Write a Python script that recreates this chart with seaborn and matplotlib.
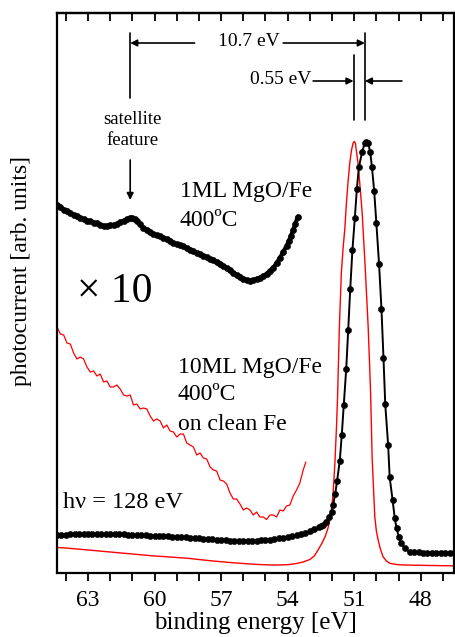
import numpy as np
import pandas as pd
import matplotlib
matplotlib.use("Agg")
import matplotlib.pyplot as plt
import seaborn as sns

# ---------------- data (binding energy [eV], photocurrent [arb. units]) ----------------
# 1ML MgO/Fe, main spectrum (black, dots)
black_E = [64.4, 64.2, 64.0, 63.8, 63.6, 63.4, 63.2, 63.0, 62.8, 62.6, 62.4, 62.2, 62.0,
           61.8, 61.6, 61.4, 61.2, 61.0, 60.8, 60.6, 60.4, 60.2, 60.0, 59.8, 59.6, 59.4,
           59.2, 59.0, 58.8, 58.6, 58.4, 58.2, 58.0, 57.8, 57.6, 57.4, 57.2, 57.0, 56.8,
           56.6, 56.4, 56.2, 56.0, 55.8, 55.6, 55.4, 55.2, 55.0, 54.8, 54.6, 54.4, 54.2,
           54.0, 53.8, 53.6, 53.4, 53.2, 53.0, 52.8, 52.6, 52.5,
           52.40, 52.25, 52.13, 52.02, 51.95, 51.86, 51.77, 51.65, 51.56, 51.47, 51.36,
           51.27, 51.18, 51.08, 50.97, 50.88, 50.79, 50.64, 50.52, 50.45, 50.37, 50.28,
           50.20, 50.10, 50.00, 49.88, 49.77, 49.68, 49.60, 49.47, 49.40, 49.27, 49.17,
           49.09, 48.99, 48.87, 48.72, 48.50, 48.3, 48.1, 47.9, 47.7, 47.5, 47.3, 47.1,
           46.9, 46.7, 46.5]
black_I = [38.0, 38.3, 38.5, 38.6, 38.6, 38.7, 38.7, 38.7, 38.8, 38.9, 39.0, 39.0, 39.0,
           38.9, 38.8, 38.6, 38.4, 38.2, 38.0, 37.8, 37.6, 37.4, 37.2, 37.0, 36.8, 36.6,
           36.4, 36.2, 36.0, 35.7, 35.4, 35.1, 34.8, 34.4, 34.0, 33.7, 33.4, 33.1, 32.8,
           32.5, 32.3, 32.2, 32.1, 32.1, 32.2, 32.4, 32.7, 33.0, 33.5, 34.0, 34.7, 35.4,
           36.2, 37.1, 38.1, 39.2, 40.4, 41.8, 43.6, 46.0, 47.0,
           48.0, 51.3, 56.3, 61.3, 68.0, 78.7, 92.3, 112.3, 138.0, 168.0, 204.0,
           243.0, 283.7, 323.0, 355.3, 384.0, 405.7, 421.3, 430.3, 431.3, 429.7, 421.3,
           406.0, 382.3, 349.7, 309.3, 263.7, 215.3, 168.7, 128.0, 95.7, 73.0, 54.7,
           44.7, 36.3, 29.7, 24.7, 21.3, 20.8, 20.6, 20.5, 20.5, 20.4, 20.4, 20.4,
           20.4, 20.4, 20.4]

# 1ML MgO/Fe, x10 magnified (black)
black10_E = [64.41, 64.25, 64.10, 63.95, 63.80, 63.65, 63.50, 63.35, 63.20, 63.05, 62.90,
             62.75, 62.60, 62.45, 62.30, 62.15, 62.00, 61.85, 61.70, 61.55, 61.40, 61.25,
             61.10, 61.00, 60.90, 60.80, 60.65, 60.50, 60.35, 60.20, 60.05, 59.90, 59.75,
             59.60, 59.45, 59.30, 59.15, 59.00, 58.85, 58.70, 58.55, 58.40, 58.25, 58.10,
             57.95, 57.80, 57.65, 57.50, 57.35, 57.20, 57.05, 56.90, 56.75, 56.60, 56.45,
             56.30, 56.15, 56.00, 55.85, 55.70, 55.55, 55.40, 55.25, 55.10, 54.95, 54.80,
             54.65, 54.50, 54.35, 54.20, 54.05, 53.95, 53.85, 53.75, 53.65, 53.55]
black10_I = [368, 366, 363, 362, 360, 358, 357, 355, 354, 352, 352,
             350, 350, 348, 347, 347, 348, 348, 349, 351, 352, 354,
             355, 355, 354, 352, 349, 345, 343, 341, 339, 338, 337,
             335, 334, 332, 330, 329, 328, 327, 325, 323, 322, 320,
             319, 317, 316, 314, 313, 311, 309, 307, 305, 303, 300,
             298, 296, 294, 293, 292, 293, 294, 295, 297, 299, 302,
             305, 310, 315, 321, 327, 332, 337, 343, 349, 356]

# 10ML MgO/Fe on clean Fe, main spectrum (red)
red_E = [64.4, 64.0, 63.5, 63.0, 62.5, 62.0, 61.5, 61.0, 60.5, 60.0, 59.5, 59.0, 58.5,
         58.0, 57.5, 57.0, 56.5, 56.0, 55.5, 55.0, 54.5, 54.0, 53.6, 53.3, 53.0, 52.8,
         52.63, 52.45, 52.3, 52.18, 52.05, 51.95, 51.87, 51.80, 51.75, 51.67, 51.58,
         51.50, 51.42, 51.35, 51.27, 51.20, 51.12, 51.05, 51.00, 50.95, 50.90, 50.83,
         50.75, 50.64, 50.52, 50.45, 50.37, 50.30, 50.26, 50.19, 50.12, 50.07, 50.00,
         49.92, 49.82, 49.70, 49.55, 49.40, 49.10, 48.72, 48.0, 47.5, 47.0, 46.5]
red_I = [25.5, 25.0, 24.0, 23.0, 22.0, 21.0, 20.0, 19.0, 18.0, 17.0, 16.3, 15.5, 14.7,
         13.5, 12.3, 11.3, 10.3, 9.5, 8.7, 8.2, 8.0, 8.3, 9.5, 11.0, 13.5, 17.0,
         23.0, 30.0, 37.0, 45.0, 58.0, 80.0, 110.0, 145.0, 176.0, 245.0, 300.0,
         325.0, 345.0, 370.0, 393.0, 410.0, 423.0, 430.0, 431.5, 430.0, 422.0, 410.0,
         390.0, 360.0, 312.0, 282.0, 246.0, 205.0, 180.0, 115.0, 80.0, 56.0, 42.0,
         33.0, 24.0, 16.3, 12.0, 9.7, 8.5, 8.0, 7.7, 7.5, 7.3, 7.2]

# 10ML MgO/Fe on clean Fe, x10 magnified (red, noisy)
red10_E = [64.40, 64.25, 64.10, 63.95, 63.80, 63.65, 63.50, 63.35, 63.20, 63.05, 62.90,
           62.75, 62.60, 62.45, 62.30, 62.15, 62.00, 61.85, 61.70, 61.55, 61.40, 61.25,
           61.10, 60.95, 60.80, 60.65, 60.50, 60.35, 60.20, 60.05, 59.90, 59.75, 59.60,
           59.45, 59.30, 59.15, 59.00, 58.85, 58.70, 58.55, 58.40, 58.25, 58.10, 57.95,
           57.80, 57.65, 57.50, 57.35, 57.20, 57.05, 56.90, 56.75, 56.60, 56.45, 56.30,
           56.15, 56.00, 55.85, 55.70, 55.55, 55.40, 55.25, 55.10, 54.95, 54.80, 54.65,
           54.50, 54.35, 54.20, 54.05, 53.90, 53.75, 53.60, 53.45, 53.30, 53.18]
red10_I = [246, 239, 238, 230, 229, 220, 214, 216, 214, 206, 201,
           202, 197, 199, 191, 192, 186, 186, 188, 184, 178, 177,
           178, 168, 169, 164, 165, 164, 157, 152, 154, 152, 145,
           148, 142, 141, 136, 139, 139, 130, 128, 126, 118, 120,
           115, 114, 106, 103, 102, 93, 92, 89, 80, 74, 74,
           69, 63, 65, 63, 58, 61, 56, 56, 53.5, 58, 58,
           56, 63, 62, 67, 68, 77, 83, 90, 103, 111]

x_ticks = [63, 60, 57, 54, 51, 48]
x_tick_labels = ["63", "60", "57", "54", "51", "48"]
x_minor = [47, 49, 50, 52, 53, 55, 56, 58, 59, 61, 62, 64]

# ---------------- figure ----------------
sns.set_style("ticks")
plt.rcParams["font.family"] = ["Liberation Serif", "DejaVu Serif"]
plt.rcParams.update({"text.color": "black", "axes.labelcolor": "black",
                     "axes.edgecolor": "black", "xtick.color": "black",
                     "ytick.color": "black"})

fig = plt.figure(figsize=(4.55, 6.37), dpi=100)
ax = fig.add_axes([57 / 455, 1 - 573 / 637, 397 / 455, 560 / 637])

sns.lineplot(x=red_E, y=red_I, ax=ax, color="#ff0000", lw=1.0, sort=False, estimator=None)
sns.lineplot(x=red10_E, y=red10_I, ax=ax, color="#ff0000", lw=0.9, sort=False, estimator=None)
sns.lineplot(x=black_E, y=black_I, ax=ax, color="black", lw=1.4, marker="o", ms=4.4,
             mec="black", mew=0.4, sort=False, estimator=None)
sns.lineplot(x=black10_E, y=black10_I, ax=ax, color="black", lw=3.0, marker="o", ms=4.4,
             mec="black", mew=0.4, sort=False, estimator=None)

ax.set_xlim(64.4, 46.5)
ax.set_ylim(0, 560)
ax.set_xticks(x_ticks)
ax.set_xticklabels(x_tick_labels)
ax.set_xticks(x_minor, minor=True)
ax.set_yticks([])
ax.tick_params(axis="x", which="major", direction="out", length=6, width=1.3,
               labelsize=17, pad=6, top=False, colors="black")
ax.tick_params(axis="x", which="minor", direction="out", length=6, width=1.3, top=False,
               colors="black")
for s in ax.spines.values():
    s.set_linewidth(1.6)
    s.set_color("black")
    s.set_visible(True)

top = ax.secondary_xaxis("top")
top.set_xticks(x_ticks)
top.set_xticks(x_minor, minor=True)
top.tick_params(axis="x", which="both", direction="in", length=6, width=1.3,
                labeltop=False, colors="black")
top.spines["top"].set_linewidth(1.6)
top.spines["top"].set_color("black")

ax.set_xlabel("binding energy [eV]", fontsize=18, labelpad=1, color="black")
ax.set_ylabel("photocurrent [arb. units]", fontsize=17, color="black")
ax.yaxis.set_label_coords(-0.063, 0.54)

# ---------------- annotations ----------------
lc = dict(color="black", lw=1.2)
ax.plot([61.1, 61.1], [540, 475], **lc)
ax.plot([50.52, 50.52], [540, 453], **lc)
ax.plot([51.03, 51.03], [518, 453], **lc)
arr = dict(arrowstyle="-|>", color="black", lw=1.2, mutation_scale=10, shrinkA=0, shrinkB=0)
ax.annotate("", xy=(61.1, 530), xytext=(58.2, 530), arrowprops=arr)
ax.annotate("", xy=(50.52, 530), xytext=(54.2, 530), arrowprops=arr)
ax.text(55.75, 531, "10.7 eV", ha="center", va="center", fontsize=14)
ax.annotate("", xy=(51.03, 492), xytext=(52.85, 492), arrowprops=arr)
ax.annotate("", xy=(50.52, 492), xytext=(48.85, 492), arrowprops=arr)
ax.text(54.3, 494, "0.55 eV", ha="center", va="center", fontsize=14)
ax.text(61.0, 443, "satellite\nfeature", ha="center", va="center", fontsize=13.5,
        linespacing=1.25)
ax.annotate("", xy=(61.1, 373), xytext=(61.1, 413), arrowprops=arr)

ax.text(58.86, 381, "1ML MgO/Fe", ha="left", va="center", fontsize=17)
ax.text(58.86, 353, "400ºC", ha="left", va="center", fontsize=17)
ax.text(63.5, 281, "× 10", ha="left", va="center", fontsize=30)
ax.text(58.95, 206, "10ML MgO/Fe", ha="left", va="center", fontsize=17)
ax.text(58.95, 178, "400ºC", ha="left", va="center", fontsize=17)
ax.text(58.95, 149, "on clean Fe", ha="left", va="center", fontsize=17)
ax.text(64.13, 71, "hν = 128 eV", ha="left", va="center", fontsize=17.5)

fig.savefig("out.png", dpi=100)
